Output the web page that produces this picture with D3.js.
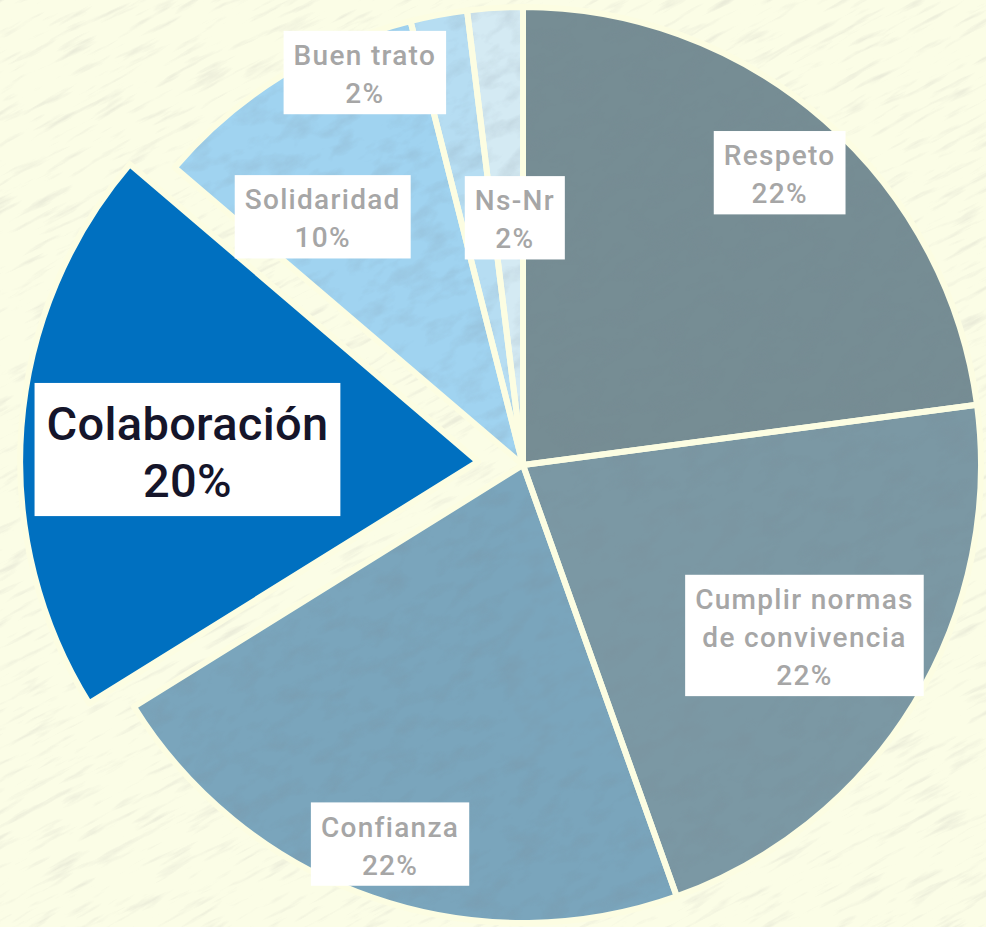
<!DOCTYPE html>
<html>
<head>
<meta charset="utf-8">
<title>Valores</title>
<script src="https://d3js.org/d3.v7.min.js"></script>
<style>
  body { margin: 0; background: #fbfde6; }
  svg { display: block; }
  text { font-family: Roboto, "DejaVu Sans", sans-serif; }
</style>
</head>
<body>
<svg id="chart"></svg>
<script>
// data
var categories = ["Respeto", "Cumplir normas de convivencia", "Confianza", "Colaboración", "Solidaridad", "Buen trato", "Ns-Nr"];
var values = [22.9, 21.65, 21.6, 20.1, 9.8, 2.0, 1.95];
var pctLabels = ["22%", "22%", "22%", "20%", "10%", "2%", "2%"];
var colors = ["#768d94", "#7b98a4", "#7aa5bc", "#0070c0", "#a0d3f0", "#b6ddf2", "#d4eaf3"];

var width = 986, height = 927;
var cx = 523, cy = 465, R = 458;
var explodeIndex = 3, explodeDist = 45;

// label placement: fraction of radius along the slice bisector, angle shift in degrees
var labelPlace = [
  { r: 0.847, da: 0.2 },
  { r: 0.72, da: 0 },
  { r: 0.88, da: 0 },
  { r: 0.635, da: -2.4 },
  { r: 0.694, da: -7.2 },
  { r: 0.921, da: -11.4 },
  { r: 0.537, da: 1.6 }
];

var svg = d3.select("#chart").attr("width", width).attr("height", height);
var defs = svg.append("defs");

// paper texture
var f1 = defs.append("filter").attr("id", "paper")
  .attr("x", 0).attr("y", 0).attr("width", 1).attr("height", 1);
f1.append("feTurbulence").attr("type", "fractalNoise")
  .attr("baseFrequency", "0.02 0.16").attr("numOctaves", 4).attr("seed", 4);
f1.append("feColorMatrix").attr("type", "matrix")
  .attr("values", "0 0 0 0 0.55  0 0 0 0 0.55  0 0 0 0 0.5  3.0 0 0 0 -1.65");

var f2 = defs.append("filter").attr("id", "grain")
  .attr("x", 0).attr("y", 0).attr("width", 1).attr("height", 1);
f2.append("feTurbulence").attr("type", "fractalNoise")
  .attr("baseFrequency", "0.03 0.06").attr("numOctaves", 4).attr("seed", 9);
f2.append("feColorMatrix").attr("type", "matrix")
  .attr("values", "0 0 0 0 0.2  0 0 0 0 0.25  0 0 0 0 0.3  2.5 0 0 0 -1.15");

// background
svg.append("rect").attr("width", width).attr("height", height).attr("fill", "#fbfde6");
svg.append("g")
  .attr("transform", "rotate(-28," + width / 2 + "," + height / 2 + ")")
  .append("rect")
  .attr("x", -400).attr("y", -400).attr("width", width + 800).attr("height", height + 800)
  .attr("fill", "#fff")
  .attr("filter", "url(#paper)")
  .attr("opacity", 0.3);

var pie = d3.pie().sort(null).value(function (d) { return d; });
var arcs = pie(values);
var arc = d3.arc().innerRadius(0).outerRadius(R);

function offset(d, i) {
  if (i !== explodeIndex) return [0, 0];
  var a = (d.startAngle + d.endAngle) / 2;
  return [explodeDist * Math.sin(a), -explodeDist * Math.cos(a)];
}
function shift(d, i) { var o = offset(d, i); return "translate(" + o[0] + "," + o[1] + ")"; }

var center = "translate(" + cx + "," + cy + ")";

svg.append("g").attr("transform", center)
  .selectAll("path")
  .data(arcs)
  .enter().append("path")
  .attr("transform", shift)
  .attr("d", arc)
  .attr("fill", function (d, i) { return colors[i]; });

// grain on the grey/blue slices
var clip = defs.append("clipPath").attr("id", "sliceClip");
clip.selectAll("path")
  .data(arcs.filter(function (d, i) { return i !== explodeIndex; }))
  .enter().append("path")
  .attr("transform", center)
  .attr("d", arc);
svg.append("g").attr("clip-path", "url(#sliceClip)")
  .append("g")
  .attr("transform", "rotate(-28," + cx + "," + cy + ")")
  .append("rect")
  .attr("x", -300).attr("y", -300).attr("width", width + 600).attr("height", height + 600)
  .attr("fill", "#fff")
  .attr("filter", "url(#grain)")
  .attr("opacity", 0.18);

// slice borders
svg.append("g").attr("transform", center)
  .selectAll("path")
  .data(arcs)
  .enter().append("path")
  .attr("transform", shift)
  .attr("d", arc)
  .attr("fill", "none")
  .attr("stroke", "#fcfde2")
  .attr("stroke-width", 6)
  .attr("stroke-linejoin", "round");

// labels
var labels = svg.append("g").attr("transform", center)
  .selectAll("g")
  .data(arcs)
  .enter().append("g")
  .attr("transform", function (d, i) {
    var o = offset(d, i);
    var a = (d.startAngle + d.endAngle) / 2 + labelPlace[i].da * Math.PI / 180;
    var r = labelPlace[i].r * R;
    return "translate(" + (o[0] + r * Math.sin(a)) + "," + (o[1] - r * Math.cos(a)) + ")";
  });

labels.each(function (d, i) {
  var el = d3.select(this);
  var big = i === explodeIndex;
  var fs = big ? 47 : 28;
  var lh = big ? 57 : 38;
  var lines = categories[i] === "Cumplir normas de convivencia"
    ? ["Cumplir normas", "de convivencia"] : [categories[i]];
  lines = lines.concat([pctLabels[i]]);
  var n = lines.length;
  var box = el.append("rect").attr("fill", "#ffffff");
  var firstBase = -((n - 1) * lh) / 2 + fs * 0.36;
  var txt = el.append("text")
    .attr("text-anchor", "middle")
    .attr("font-size", fs)
    .attr("font-weight", 500)
    .attr("letter-spacing", big ? 0.3 : 1.3)
    .attr("fill", big ? "#15152a" : "#a6a6a6");
  lines.forEach(function (s, k) {
    txt.append("tspan").attr("x", 0).attr("y", firstBase + k * lh).text(s);
  });
  var bb = txt.node().getBBox();
  var padX = big ? 12 : 10;
  var top = firstBase - fs * 1.22;
  var bottom = firstBase + (n - 1) * lh + fs * 0.4;
  box.attr("x", -bb.width / 2 - padX).attr("width", bb.width + 2 * padX)
    .attr("y", top).attr("height", bottom - top);
});
</script>
</body>
</html>
